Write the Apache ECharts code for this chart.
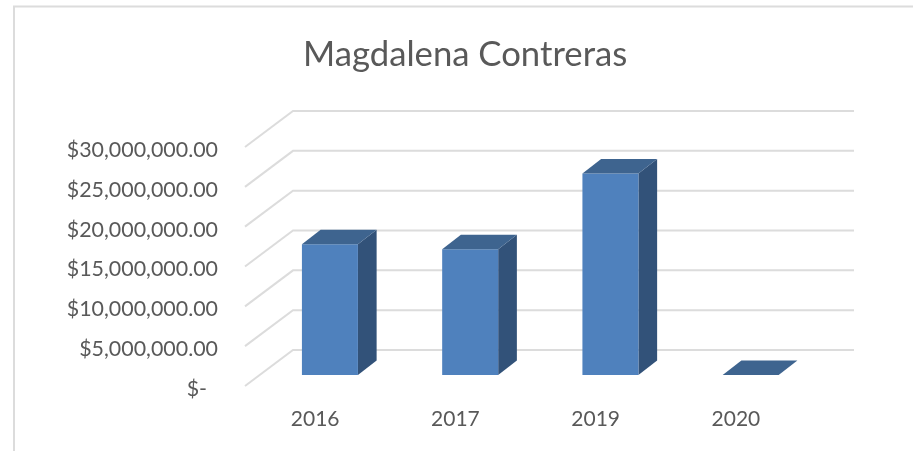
<!DOCTYPE html>
<html><head><meta charset="utf-8">
<style>html,body{margin:0;padding:0;background:#fff}#c{width:913px;height:451px}</style>
<script src="https://cdn.jsdelivr.net/npm/echarts@6/dist/echarts.min.js"></script>
</head><body><div id="c"></div>
<script>
var categories = ['2016', '2017', '2019', '2020'];
var values = [16400000, 15800000, 25300000, 0];
var yTicks = [0, 5000000, 10000000, 15000000, 20000000, 25000000, 30000000];
var tickLabels = ['$-\u00a0\u00a0', '$5,000,000.00', '$10,000,000.00', '$15,000,000.00', '$20,000,000.00', '$25,000,000.00', '$30,000,000.00'];
var titleText = 'Magdalena Contreras';

var FONT = 'Lato';
var WALL_DX = 48, WALL_DY = -36;
var BAR_W = 56, BAR_OX = 14.8, BAR_OY = -11, BAR_DX = 18.7, BAR_DY = -14.5;

var chart = echarts.init(document.getElementById('c'), null, {renderer: 'canvas'});
chart.setOption({
  animation: false,
  backgroundColor: '#fff',
  title: {text: titleText, left: 298, top: 32,
    textStyle: {fontFamily: FONT, fontSize: 34.7, fontWeight: 'normal', color: '#595959'}},
  grid: {left: 245, right: 107, top: 147, bottom: 65},
  xAxis: {type: 'category', data: categories,
    axisLine: {show: false}, axisTick: {show: false}, splitLine: {show: false},
    axisLabel: {fontFamily: FONT, fontSize: 21, color: '#595959', margin: 23}},
  yAxis: {type: 'value', min: 0, max: 30000000, interval: 5000000,
    axisLine: {show: false}, axisTick: {show: false}, splitLine: {show: false},
    axisLabel: {fontFamily: FONT, fontSize: 21.4, color: '#595959', margin: 27,
      rich: {t: {fontFamily: FONT, fontSize: 21.4, color: '#595959', padding: [6, 0, 0, 0]}},
      formatter: function (v) { return '{t|' + tickLabels[yTicks.indexOf(v)] + '}'; }}},
  graphic: [{type: 'polyline', silent: true, z: 0,
    shape: {points: [[14, 451], [14, 6.5], [913, 6.5]]},
    style: {fill: null, stroke: '#dcdcdc', lineWidth: 2}}],
  series: [
    {type: 'custom', coordinateSystem: 'cartesian2d', z: 1, silent: true,
      data: yTicks.map(function (t) { return [0, t]; }),
      encode: {x: 0, y: 1},
      renderItem: function (params, api) {
        var cs = params.coordSys;
        var y = api.coord([0, api.value(1)])[1];
        return {type: 'polyline',
          shape: {points: [[cs.x, y], [cs.x + WALL_DX, y + WALL_DY], [cs.x + cs.width + WALL_DX, y + WALL_DY]]},
          style: {fill: null, stroke: '#dcdcdc', lineWidth: 2}};
      }},
    {type: 'custom', coordinateSystem: 'cartesian2d', z: 2, silent: true,
      data: values.map(function (v, i) { return [i, v]; }),
      encode: {x: 0, y: 1},
      renderItem: function (params, api) {
        var top = api.coord([api.value(0), api.value(1)]);
        var base = api.coord([api.value(0), 0]);
        var x0 = top[0] + BAR_OX - BAR_W / 2, x1 = x0 + BAR_W;
        var yt = top[1] + BAR_OY, yb = base[1] + BAR_OY;
        var kids = [];
        if (api.value(1) > 0) {
          kids.push({type: 'polygon', shape: {points: [[x1, yt], [x1 + BAR_DX, yt + BAR_DY], [x1 + BAR_DX, yb + BAR_DY], [x1, yb]]},
            style: {fill: '#325279'}});
          kids.push({type: 'rect', shape: {x: x0, y: yt, width: BAR_W, height: yb - yt},
            style: {fill: '#4f81bd'}});
        }
        kids.push({type: 'polygon', shape: {points: [[x0, yt], [x0 + BAR_DX, yt + BAR_DY], [x1 + BAR_DX, yt + BAR_DY], [x1, yt]]},
          style: {fill: '#3e648f'}});
        return {type: 'group', children: kids};
      }}
  ]
});
</script></body></html>
